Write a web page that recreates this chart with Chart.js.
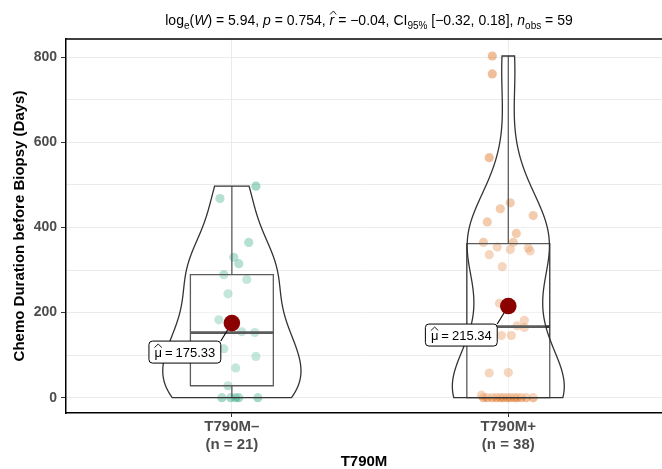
<!DOCTYPE html>
<html>
<head>
<meta charset="utf-8">
<script src="https://cdn.jsdelivr.net/npm/chart.js@4.4.1/dist/chart.umd.min.js"></script>
<style>
  html, body { margin: 0; padding: 0; background: #fff; }
</style>
</head>
<body>
<canvas id="chemo-chart" width="662" height="469"></canvas>
<script>
const FONT = '"Liberation Sans", Arial, Helvetica, sans-serif';

// Groups on the x axis
const groups = ["T790M–", "T790M+"];

// Chemo duration (days) per patient, with the horizontal jitter of each dot
const negDays = [497, 468, 365, 330, 315, 289, 278, 244, 183, 155, 153, 115, 97, 95, 70, 28, 0, 0, 0, 0, 0];
const negJitter = [0.087, -0.043, 0.061, 0.007, 0.025, -0.029, 0.054, -0.014, -0.047, 0.036, 0.083, -0.029, 0.087, -0.076, 0.014, -0.014, -0.036, -0.004, 0.014, 0.025, 0.094];

const posDays = [803, 761, 564, 458, 444, 428, 413, 386, 365, 365, 354, 352, 348, 345, 336, 308, 222, 182, 169, 165, 146, 146, 59, 58, 6,
  0, 0, 0, 0, 0, 0, 0, 0, 0, 0, 0, 0, 0];
const posJitter = [-0.058, -0.058, -0.069, 0.007, -0.029, 0.090, -0.076, 0.029, -0.090, 0.018, -0.040, 0.072, 0.007, 0.079, -0.069, -0.022, -0.032, 0.058, 0.032, 0.058, -0.025, 0.011, 0, -0.069, -0.097,
  -0.090, -0.076, -0.058, -0.043, -0.029, -0.018, -0.004, 0.007, 0.022, 0.032, 0.047, 0.065, 0.090];

// y axis ticks (labels on every second one)
const yTicks = [0, 100, 200, 300, 400, 500, 600, 700, 800];

// Test result shown above the panel
const subtitleParts = [
  { t: "log" }, { t: "e", sub: true }, { t: "(" }, { t: "W", it: true }, { t: ") = 5.94, " },
  { t: "p", it: true }, { t: " = 0.754, " },
  { t: "r", it: true, hat: true }, { t: " = −0.04, CI" }, { t: "95%", sub: true }, { t: " [−0.32, 0.18], " },
  { t: "n", it: true }, { t: "obs", sub: true }, { t: " = 59" }
];

const pointColors = ["rgba(27,158,119,0.4)", "rgba(217,95,2,0.4)"];

// ---- summary statistics ----
function quantile(sorted, p) {
  const h = (sorted.length - 1) * p;
  const lo = Math.floor(h);
  const hi = Math.min(lo + 1, sorted.length - 1);
  return sorted[lo] + (h - lo) * (sorted[hi] - sorted[lo]);
}

function describe(values) {
  const s = values.slice().sort((a, b) => a - b);
  const n = s.length;
  const mean = s.reduce((a, b) => a + b, 0) / n;
  const sd = Math.sqrt(s.reduce((a, b) => a + (b - mean) ** 2, 0) / (n - 1));
  const q1 = quantile(s, 0.25), med = quantile(s, 0.5), q3 = quantile(s, 0.75);
  const iqr = q3 - q1;
  const lowW = s.find(v => v >= q1 - 1.5 * iqr);
  const highW = s.filter(v => v <= q3 + 1.5 * iqr).pop();
  const bw = 0.9 * Math.min(sd, iqr / 1.34) * Math.pow(n, -0.2);
  // gaussian kernel density over the data range
  const ys = [], ds = [];
  for (let i = 0; i < 512; i++) {
    const y = s[0] + (s[n - 1] - s[0]) * i / 511;
    let d = 0;
    for (const v of s) {
      const u = (y - v) / bw;
      d += Math.exp(-0.5 * u * u);
    }
    ys.push(y);
    ds.push(d / (n * bw * Math.sqrt(2 * Math.PI)));
  }
  return { n, mean, q1, med, q3, lowW, highW, ys, ds };
}

const stats = [describe(negDays), describe(posDays)];
const maxDensity = Math.max(...stats.map(s => Math.max(...s.ds)));

// ---- custom layers ----
const backdrop = {
  id: "backdrop",
  beforeDatasetDraw(chart, args) {
    if (args.index !== 0) return;
    const { ctx, chartArea, scales: { x, y } } = chart;
    ctx.save();
    ctx.beginPath();
    ctx.rect(chartArea.left, chartArea.top, chartArea.right - chartArea.left, chartArea.bottom - chartArea.top);
    ctx.clip();
    stats.forEach((s, g) => {
      const cx = g + 1;
      // box and whiskers
      const l = x.getPixelForValue(cx - 0.15), r = x.getPixelForValue(cx + 0.15);
      const px = x.getPixelForValue(cx);
      ctx.strokeStyle = "#333333";
      ctx.lineWidth = 1.3;
      ctx.fillStyle = "rgba(255,255,255,0.2)";
      ctx.beginPath();
      ctx.rect(l, y.getPixelForValue(s.q3), r - l, y.getPixelForValue(s.q1) - y.getPixelForValue(s.q3));
      ctx.fill();
      ctx.stroke();
      ctx.beginPath();
      ctx.moveTo(px, y.getPixelForValue(s.q3));
      ctx.lineTo(px, y.getPixelForValue(s.highW));
      ctx.moveTo(px, y.getPixelForValue(s.q1));
      ctx.lineTo(px, y.getPixelForValue(s.lowW));
      ctx.stroke();
      ctx.lineWidth = 2.6;
      ctx.beginPath();
      ctx.moveTo(l, y.getPixelForValue(s.med));
      ctx.lineTo(r, y.getPixelForValue(s.med));
      ctx.stroke();

      // violin outline
      ctx.lineWidth = 1.3;
      ctx.beginPath();
      s.ys.forEach((v, i) => {
        const w = 0.25 * s.ds[i] / maxDensity;
        const X = x.getPixelForValue(cx + w), Y = y.getPixelForValue(v);
        if (i === 0) ctx.moveTo(X, Y); else ctx.lineTo(X, Y);
      });
      for (let i = s.ys.length - 1; i >= 0; i--) {
        const w = 0.25 * s.ds[i] / maxDensity;
        ctx.lineTo(x.getPixelForValue(cx - w), y.getPixelForValue(s.ys[i]));
      }
      ctx.closePath();
      ctx.fill();
      ctx.stroke();

      // connector from the mean label to the mean dot
      const mx = x.getPixelForValue(cx), my = y.getPixelForValue(s.mean);
      const box = labelBox(ctx, mx, my, s.mean);
      const nx = Math.min(Math.max(mx, box.x), box.x + box.w);
      const ny = Math.min(Math.max(my, box.y), box.y + box.h);
      ctx.strokeStyle = "#000";
      ctx.lineWidth = 1.1;
      ctx.beginPath();
      ctx.moveTo(nx, ny);
      ctx.lineTo(mx, my);
      ctx.stroke();
    });
    ctx.restore();
  }
};

const LABEL_SIZE = 13;
const LABEL_GAP = 3;
function labelBox(ctx, mx, my, value) {
  ctx.font = `${LABEL_SIZE}px ${FONT}`;
  const tw = ctx.measureText("μ").width + ctx.measureText("=").width + ctx.measureText(value.toFixed(2)).width + 2 * LABEL_GAP;
  const w = tw + 11, h = 22;
  return { x: mx - 47 - w / 2, y: my + 29 - h / 2, w, h, tw };
}

function roundRect(ctx, x, y, w, h, r) {
  ctx.beginPath();
  ctx.moveTo(x + r, y);
  ctx.arcTo(x + w, y, x + w, y + h, r);
  ctx.arcTo(x + w, y + h, x, y + h, r);
  ctx.arcTo(x, y + h, x, y, r);
  ctx.arcTo(x, y, x + w, y, r);
  ctx.closePath();
}

const overlay = {
  id: "overlay",
  afterDatasetsDraw(chart) {
    const { ctx, chartArea, scales: { x, y } } = chart;
    ctx.save();
    // top frame line
    ctx.strokeStyle = "#000";
    ctx.lineWidth = 1.5;
    ctx.beginPath();
    ctx.moveTo(chartArea.left - 0.75, chartArea.top);
    ctx.lineTo(chart.width, chartArea.top);
    ctx.stroke();

    // mean labels
    stats.forEach((s, g) => {
      const mx = x.getPixelForValue(g + 1), my = y.getPixelForValue(s.mean);
      const b = labelBox(ctx, mx, my, s.mean);
      roundRect(ctx, b.x, b.y, b.w, b.h, 3.5);
      ctx.fillStyle = "#fff";
      ctx.fill();
      ctx.strokeStyle = "#000";
      ctx.lineWidth = 1;
      ctx.stroke();
      ctx.fillStyle = "#000";
      ctx.font = `${LABEL_SIZE}px ${FONT}`;
      ctx.textBaseline = "alphabetic";
      ctx.textAlign = "left";
      let tx = b.x + (b.w - b.tw) / 2;
      const base = b.y + b.h / 2 + 4.5;
      const muW = ctx.measureText("μ").width;
      ctx.fillText("μ", tx, base);
      // hat over mu
      ctx.lineWidth = 0.9;
      ctx.beginPath();
      ctx.moveTo(tx, base - 9);
      ctx.lineTo(tx + muW / 2, base - 12.5);
      ctx.lineTo(tx + muW, base - 9);
      ctx.stroke();
      tx += muW + LABEL_GAP;
      ctx.fillText("=", tx, base);
      tx += ctx.measureText("=").width + LABEL_GAP;
      ctx.fillText(s.mean.toFixed(2), tx, base);
    });
    ctx.restore();
  },
  afterDraw(chart) {
    const { ctx } = chart;
    const size = 14, subSize = 10;
    ctx.save();
    ctx.textBaseline = "alphabetic";
    ctx.textAlign = "left";
    ctx.fillStyle = "#000";
    const fontOf = p => `${p.it ? "italic " : ""}${p.sub ? subSize : size}px ${FONT}`;
    let total = 0;
    subtitleParts.forEach(p => { ctx.font = fontOf(p); total += ctx.measureText(p.t).width; });
    let tx = 369 - total / 2;
    const base = 25;
    subtitleParts.forEach(p => {
      ctx.font = fontOf(p);
      const w = ctx.measureText(p.t).width;
      ctx.fillText(p.t, tx, p.sub ? base + 3.5 : base);
      if (p.hat) {
        ctx.strokeStyle = "#000";
        ctx.lineWidth = 0.9;
        ctx.beginPath();
        ctx.moveTo(tx + 0.5, base - 10.5);
        ctx.lineTo(tx + w / 2 + 1.5, base - 14);
        ctx.lineTo(tx + w + 2, base - 10.5);
        ctx.stroke();
      }
      tx += w;
    });
    ctx.restore();
  }
};

// ---- chart ----
new Chart(document.getElementById("chemo-chart"), {
  type: "scatter",
  data: {
    datasets: [
      {
        label: "mean",
        data: stats.map((s, g) => ({ x: g + 1, y: s.mean })),
        backgroundColor: "#8B0000",
        pointRadius: 8.3,
        borderWidth: 0
      },
      {
        label: groups[0],
        data: negDays.map((v, i) => ({ x: 1 + negJitter[i], y: v })),
        backgroundColor: pointColors[0],
        pointRadius: 4.6,
        borderWidth: 0
      },
      {
        label: groups[1],
        data: posDays.map((v, i) => ({ x: 2 + posJitter[i], y: v })),
        backgroundColor: pointColors[1],
        pointRadius: 4.6,
        borderWidth: 0
      }
    ]
  },
  options: {
    responsive: false,
    animation: false,
    layout: { autoPadding: false, padding: { top: 39, left: 0, right: 0, bottom: 0 } },
    plugins: { legend: { display: false }, tooltip: { enabled: false } },
    scales: {
      x: {
        type: "linear",
        min: 0.4,
        max: 2.556,
        afterBuildTicks: scale => { scale.ticks = [1, 2].map(v => ({ value: v })); },
        afterFit: scale => {
          scale.height = 56;
          scale.paddingLeft = 0;
          scale.paddingRight = 0;
        },
        ticks: {
          autoSkip: false,
          maxRotation: 0,
          padding: 1,
          color: "#4d4d4d",
          font: { family: FONT, size: 15, weight: "bold", lineHeight: 1.2 },
          callback: v => [groups[v - 1], `(n = ${stats[v - 1].n})`]
        },
        grid: { color: "#ebebeb", lineWidth: 1, tickLength: 4, tickColor: "#333" },
        border: { color: "#000", width: 1.5 },
        title: {
          display: true,
          text: "T790M",
          color: "#000",
          font: { family: FONT, size: 15, weight: "bold", lineHeight: 1.0 },
          padding: 0
        }
      },
      y: {
        min: -36,
        max: 843,
        afterBuildTicks: scale => { scale.ticks = yTicks.map(v => ({ value: v })); },
        afterFit: scale => { scale.width = 66; },
        ticks: {
          autoSkip: false,
          padding: 4,
          color: "#4d4d4d",
          font: { family: FONT, size: 14, weight: "bold" },
          callback: v => (v % 200 === 0 ? v : "")
        },
        grid: {
          color: "#ebebeb",
          lineWidth: 1,
          tickLength: 5,
          tickColor: ctx => (ctx.tick && ctx.tick.value % 200 === 0 ? "#333" : "rgba(0,0,0,0)")
        },
        border: { color: "#000", width: 1.5 },
        title: {
          display: true,
          text: "Chemo Duration before Biopsy (Days)",
          color: "#000",
          font: { family: FONT, size: 15, weight: "bold" },
          padding: { top: 11, bottom: 0 }
        }
      }
    }
  },
  plugins: [backdrop, overlay]
});
</script>
</body>
</html>
